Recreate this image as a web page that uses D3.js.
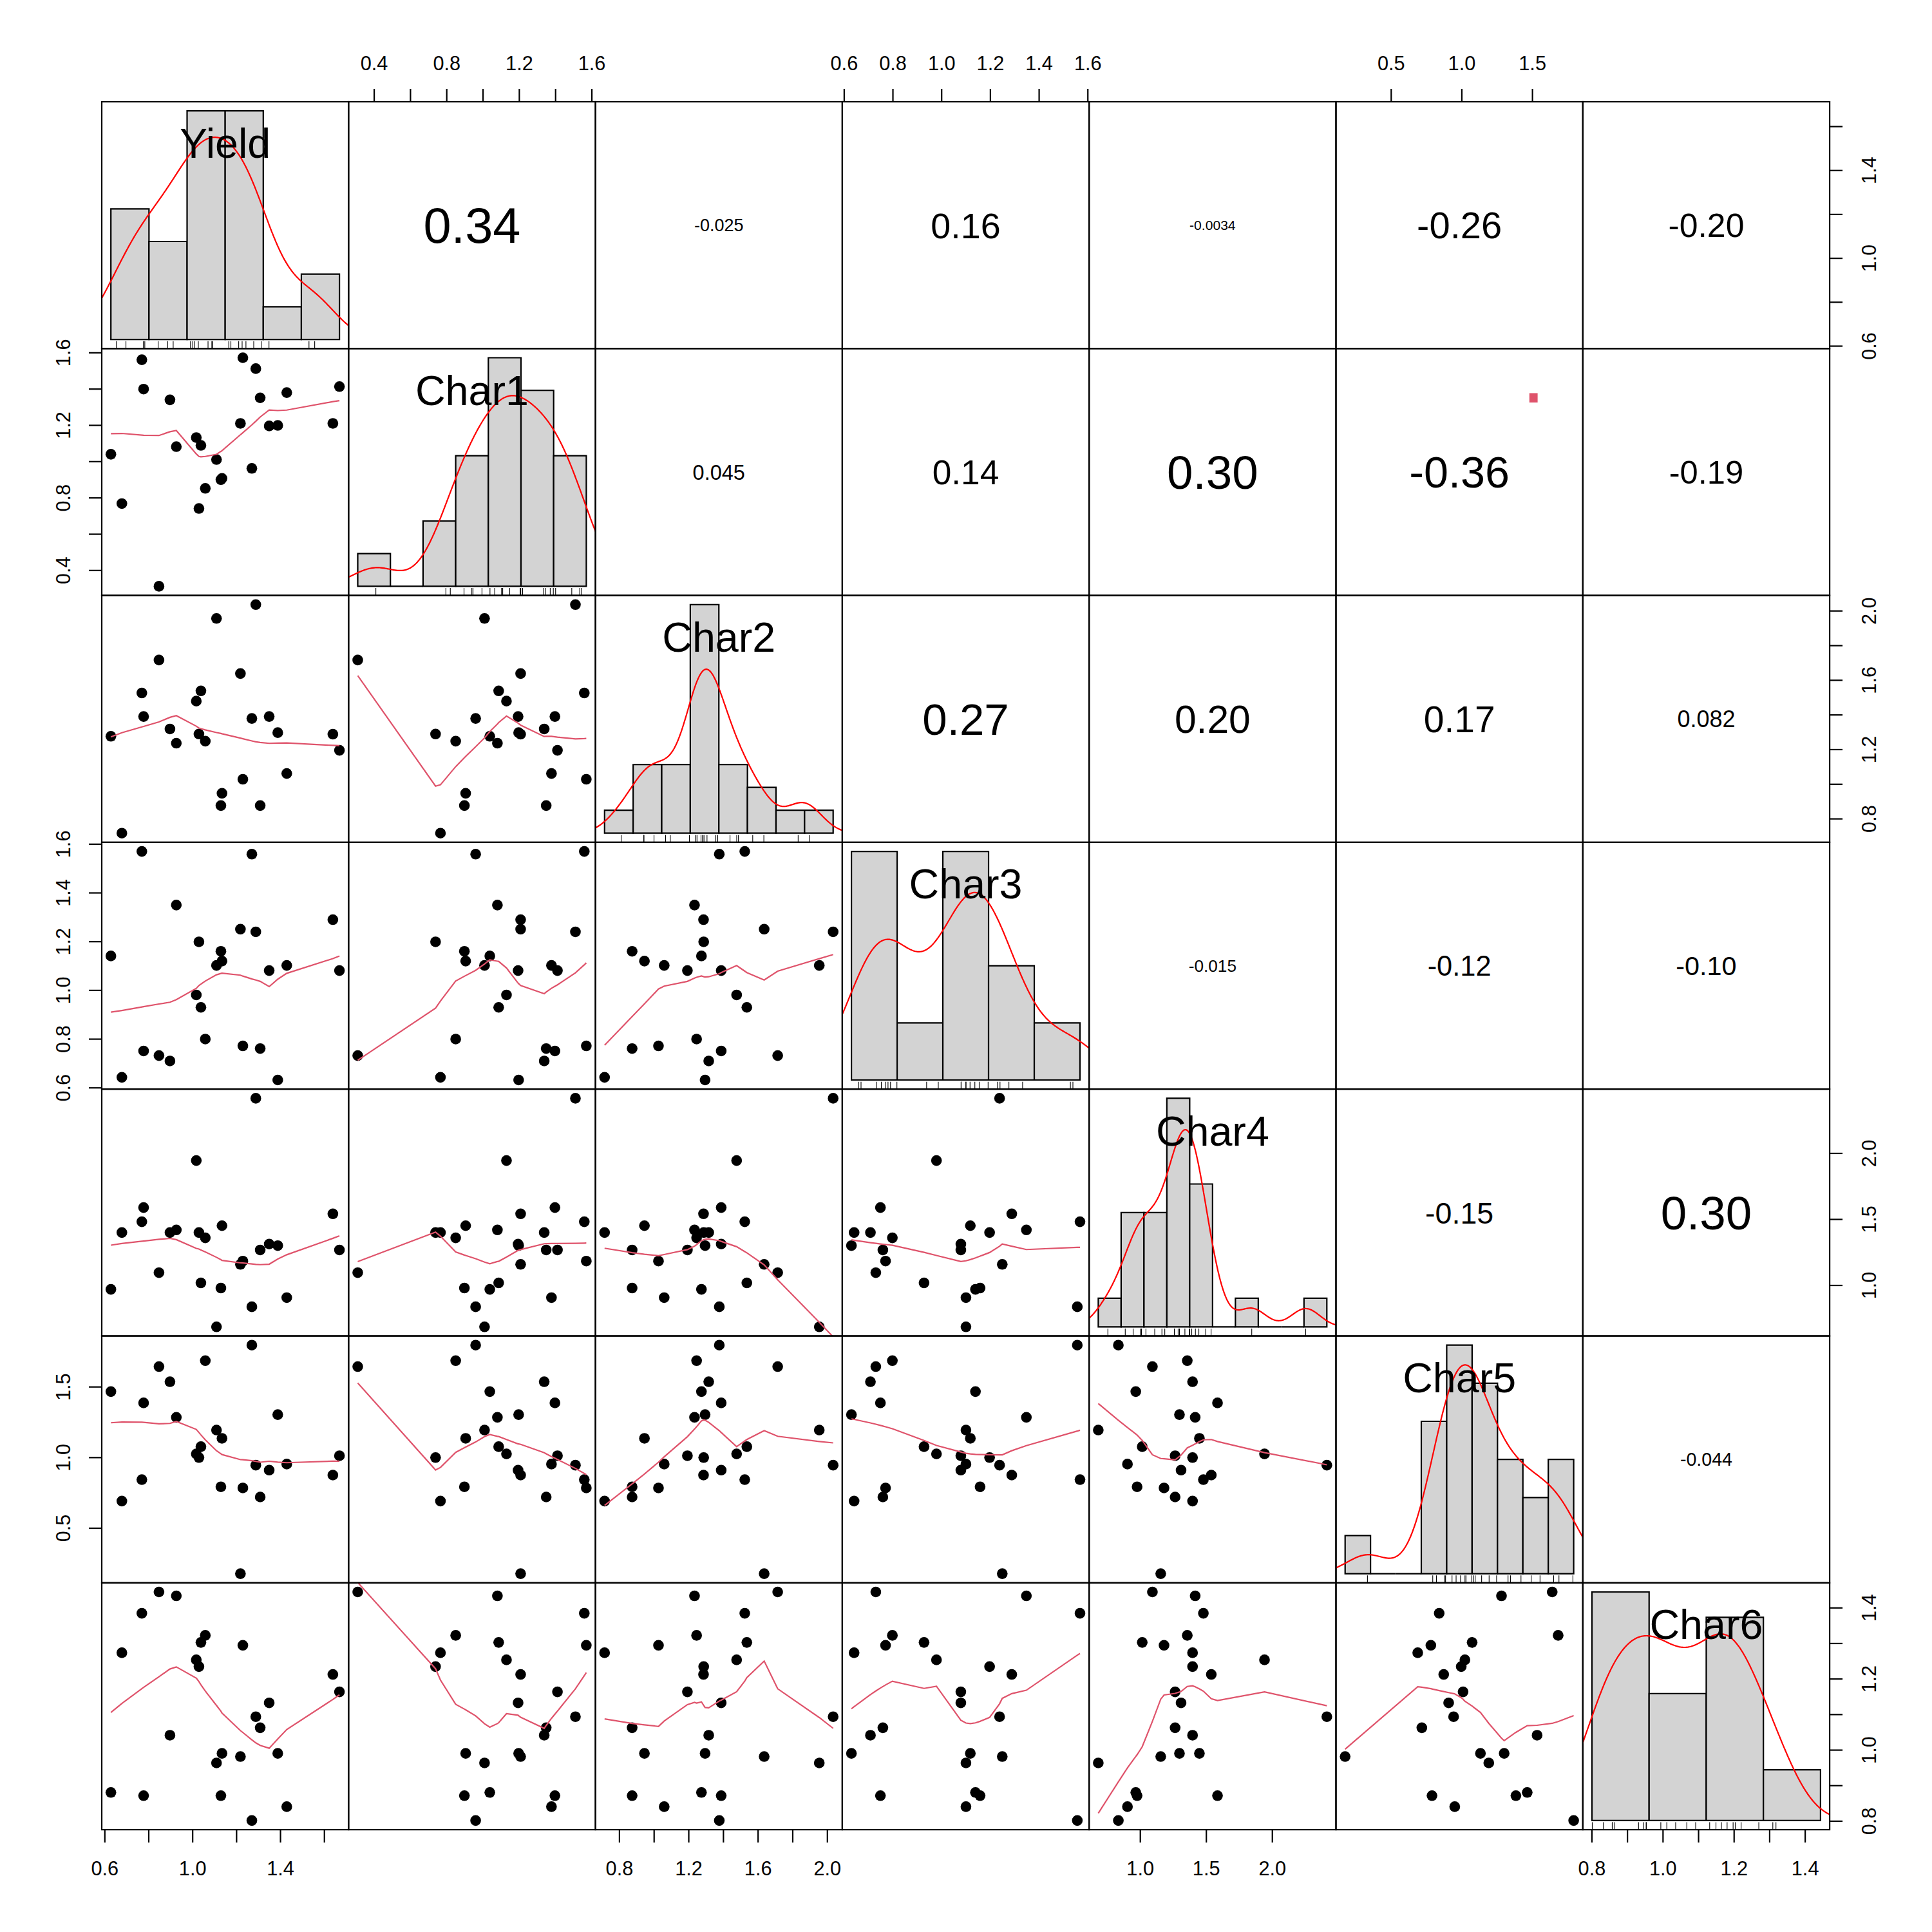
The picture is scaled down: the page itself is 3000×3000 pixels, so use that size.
<!DOCTYPE html>
<html><head><meta charset="utf-8">
<script src="https://cdn.jsdelivr.net/npm/d3@7"></script>
<style>body{margin:0;background:#fff}</style>
</head><body>
<svg id="chart" width="3000" height="3000" xmlns="http://www.w3.org/2000/svg"></svg>
<script>
// ---------- data ----------
const varNames = ["Yield","Char1","Char2","Char3","Char4","Char5","Char6"];
const yieldVals = [0.629,0.679,0.770,0.778,0.848,0.898,0.927,1.018,1.030,1.039,1.059,1.110,1.130,1.135,1.219,1.230,1.271,1.289,1.309,1.350,1.389,1.430,1.640,1.670];
const char1Vals = [1.039,0.767,1.560,1.398,0.311,1.339,1.081,1.131,0.740,1.088,0.851,1.010,0.899,0.906,1.209,1.571,0.961,1.511,1.350,1.195,1.198,1.379,1.209,1.412];
const char2Vals = [1.275,0.716,1.525,1.389,1.715,1.317,1.235,1.478,1.288,1.537,1.247,1.955,0.875,0.946,1.637,1.027,1.378,2.035,0.875,1.389,1.296,1.060,1.287,1.194];
const char3Vals = [1.140,0.642,1.569,0.750,0.731,0.709,1.349,0.980,1.198,0.929,0.799,1.101,1.159,1.119,1.250,0.771,1.558,1.239,0.760,1.080,0.631,1.101,1.289,1.080];
const char4Vals = [0.968,1.398,1.480,1.587,1.094,1.398,1.418,1.943,1.398,1.017,1.358,0.684,0.978,1.450,1.157,1.182,0.836,2.415,1.266,1.311,1.299,0.905,1.540,1.266];
const char5Vals = [1.465,0.690,0.842,1.385,1.642,1.535,1.283,1.024,0.998,1.075,1.684,1.193,0.791,1.134,0.176,0.783,1.794,0.944,0.719,0.909,1.302,0.952,0.874,1.011];
const char6Vals = [0.880,1.273,1.384,0.871,1.444,1.041,1.433,1.253,1.234,1.302,1.322,0.963,0.871,0.990,0.981,1.294,0.801,1.093,1.062,1.132,0.990,0.840,1.212,1.163];

// histogram breaks
const yieldBreaks = [0.6,0.8,1.0,1.2,1.4,1.6,1.8];
const char1Breaks = [0.2,0.4,0.6,0.8,1.0,1.2,1.4,1.6];
const char2Breaks = [0.6,0.8,1.0,1.2,1.4,1.6,1.8,2.0,2.2];
const char3Breaks = [0.6,0.8,1.0,1.2,1.4,1.6];
const char4Breaks = [0.6,0.8,1.0,1.2,1.4,1.6,1.8,2.0,2.2,2.4,2.6];
const char5Breaks = [0.0,0.2,0.4,0.6,0.8,1.0,1.2,1.4,1.6,1.8];
const char6Breaks = [0.8,1.0,1.2,1.4,1.6];

// axis ticks and labelled ticks
const yieldTicks = [0.6,0.8,1.0,1.2,1.4,1.6];   const yieldTickLabels = [0.6,1.0,1.4];
const char1Ticks = [0.4,0.6,0.8,1.0,1.2,1.4,1.6]; const char1TickLabels = [0.4,0.8,1.2,1.6];
const char2Ticks = [0.8,1.0,1.2,1.4,1.6,1.8,2.0]; const char2TickLabels = [0.8,1.2,1.6,2.0];
const char3Ticks = [0.6,0.8,1.0,1.2,1.4,1.6];     const char3TickLabels = [0.6,0.8,1.0,1.2,1.4,1.6];
const char4Ticks = [1.0,1.5,2.0];                 const char4TickLabels = [1.0,1.5,2.0];
const char5Ticks = [0.5,1.0,1.5];                 const char5TickLabels = [0.5,1.0,1.5];
const char6Ticks = [0.8,0.9,1.0,1.1,1.2,1.3,1.4]; const char6TickLabels = [0.8,1.0,1.2,1.4];

// correlations (upper triangle, row by row) and significance marks
const corLabels = ["0.34","-0.025","0.16","-0.0034","-0.26","-0.20",
                   "0.045","0.14","0.30","-0.36","-0.19",
                   "0.27","0.20","0.17","0.082",
                   "-0.015","-0.12","-0.10",
                   "-0.15","0.30",
                   "-0.044"];
const corSignif = ["","","","","","",
                   "","","",".","",
                   "","","","",
                   "","","",
                   "","",
                   ""];

// ---------- layout ----------
const vars = [yieldVals,char1Vals,char2Vals,char3Vals,char4Vals,char5Vals,char6Vals];
const breaksAll = [yieldBreaks,char1Breaks,char2Breaks,char3Breaks,char4Breaks,char5Breaks,char6Breaks];
const ticksAll = [yieldTicks,char1Ticks,char2Ticks,char3Ticks,char4Ticks,char5Ticks,char6Ticks];
const tickLabAll = [yieldTickLabels,char1TickLabels,char2TickLabels,char3TickLabels,char4TickLabels,char5TickLabels,char6TickLabels];
const NV = 7, L = 158, T = 158, S = 383.3;
const FONT = "'Liberation Sans', Arial, Helvetica, sans-serif";
const svg = d3.select("#chart");
svg.append("rect").attr("width",3000).attr("height",3000).attr("fill","#fff");
const defs = svg.append("defs");

function dom(k){ const [a,b] = d3.extent(vars[k]); const p = 0.04*(b-a); return [a-p,b+p]; }
function xSc(k,col){ return d3.scaleLinear().domain(dom(k)).range([L+col*S, L+(col+1)*S]); }
function ySc(k,row){ return d3.scaleLinear().domain(dom(k)).range([T+(row+1)*S, T+row*S]); }

function clipFor(i,j){
  const id = `clip-${i}-${j}`;
  defs.append("clipPath").attr("id",id).append("rect")
    .attr("x",L+j*S).attr("y",T+i*S).attr("width",S).attr("height",S);
  return `url(#${id})`;
}

// ---------- lowess (R clowess) ----------
function lowess(xIn, yIn, f=2/3, nsteps=3){
  const n = xIn.length;
  const idx = d3.range(n).sort((a,b)=> (xIn[a]-xIn[b]) || (a-b));
  const x=[0], y=[0];
  idx.forEach(i=>{x.push(xIn[i]); y.push(yIn[i]);});
  const delta = 0.01*(x[n]-x[1]);
  const ys = new Array(n+1).fill(0), rw = new Array(n+1).fill(1), w = new Array(n+1).fill(0), res = new Array(n+1).fill(0);
  const ns = Math.max(2, Math.min(n, Math.floor(f*n+1e-7)));
  function lowest(xs, nleft, nright, userw){
    const range = x[n]-x[1];
    const h = Math.max(xs-x[nleft], x[nright]-xs);
    const h9 = 0.999*h, h1 = 0.001*h;
    let a = 0, j = nleft;
    while (j <= n){
      w[j] = 0;
      const r = Math.abs(x[j]-xs);
      if (r <= h9){
        w[j] = (r <= h1) ? 1 : Math.pow(1-Math.pow(r/h,3),3);
        if (userw) w[j] *= rw[j];
        a += w[j];
      } else if (x[j] > xs) break;
      j++;
    }
    const nrt = j-1;
    if (a <= 0) return null;
    for (j=nleft;j<=nrt;j++) w[j] /= a;
    if (h > 0){
      a = 0;
      for (j=nleft;j<=nrt;j++) a += w[j]*x[j];
      let b = xs-a, c = 0;
      for (j=nleft;j<=nrt;j++) c += w[j]*(x[j]-a)*(x[j]-a);
      if (Math.sqrt(c) > 0.001*range){
        b /= c;
        for (j=nleft;j<=nrt;j++) w[j] *= (b*(x[j]-a)+1);
      }
    }
    let s = 0;
    for (j=nleft;j<=nrt;j++) s += w[j]*y[j];
    return s;
  }
  let iter = 1;
  while (iter <= nsteps+1){
    let nleft=1, nright=ns, last=0, i=1;
    for(;;){
      if (nright < n){
        const d1 = x[i]-x[nleft], d2 = x[nright+1]-x[i];
        if (d1 > d2){ nleft++; nright++; continue; }
      }
      const v = lowest(x[i], nleft, nright, iter>1);
      ys[i] = (v===null) ? y[i] : v;
      if (last < i-1){
        const denom = x[i]-x[last];
        for (let j=last+1;j<i;j++){ const al=(x[j]-x[last])/denom; ys[j]=al*ys[i]+(1-al)*ys[last]; }
      }
      last = i;
      const cut = x[last]+delta;
      for (i=last+1;i<=n;i++){
        if (x[i] > cut) break;
        if (x[i] === x[last]){ ys[i]=ys[last]; last=i; }
      }
      i = Math.max(last+1, i-1);
      if (last >= n) break;
    }
    for (let k=1;k<=n;k++) res[k] = y[k]-ys[k];
    let sc = 0; for (let k=1;k<=n;k++) sc += Math.abs(res[k]); sc /= n;
    if (iter > nsteps) break;
    const ar = []; for (let k=1;k<=n;k++) ar.push(Math.abs(res[k]));
    ar.sort((a,b)=>a-b);
    const m1 = Math.floor(n/2);
    const cmad = (n%2===0) ? 3*(ar[m1]+ar[n-m1-1]) : 6*ar[m1];
    if (cmad < 1e-7*sc) break;
    const c9 = 0.999*cmad, c1 = 0.001*cmad;
    for (let k=1;k<=n;k++){ const r=Math.abs(res[k]); rw[k] = r<=c1 ? 1 : (r<=c9 ? Math.pow(1-Math.pow(r/cmad,2),2) : 0); }
    iter++;
  }
  return d3.range(1,n+1).map(k=>[x[k],ys[k]]);
}

// ---------- gaussian density (R default bw.nrd0, n=512, cut=3) ----------
function density(vals){
  const n = vals.length;
  const s = vals.slice().sort(d3.ascending);
  const iqr = d3.quantileSorted(s,0.75)-d3.quantileSorted(s,0.25);
  const lo = Math.min(d3.deviation(vals), iqr/1.34);
  const bw = 0.9*lo*Math.pow(n,-0.2);
  const from = s[0]-3*bw, to = s[n-1]+3*bw;
  return d3.range(512).map(k=>{
    const xv = from+(to-from)*k/511;
    let sum = 0;
    for (const v of vals){ const z=(xv-v)/bw; sum += Math.exp(-0.5*z*z); }
    return [xv, sum/(n*bw*Math.sqrt(2*Math.PI))];
  });
}

// ---------- panels ----------
let ci = 0;
for (let i=0;i<NV;i++){
  for (let j=0;j<NV;j++){
    const px = L+j*S, py = T+i*S;
    const g = svg.append("g");
    if (i > j){
      // lower: scatter + lowess
      const xs = xSc(j,j), ys = ySc(i,i);
      const cg = g.append("g").attr("clip-path", clipFor(i,j));
      cg.selectAll("circle").data(vars[j].map((v,k)=>[v,vars[i][k]])).join("circle")
        .attr("cx",d=>xs(d[0])).attr("cy",d=>ys(d[1])).attr("r",8.3).attr("fill","#000");
      const sm = lowess(vars[j], vars[i]);
      cg.append("path").attr("d", d3.line().x(d=>xs(d[0])).y(d=>ys(d[1]))(sm))
        .attr("fill","none").attr("stroke","#DF536B").attr("stroke-width",2.2);
    } else if (i < j){
      // upper: correlation text
      const lab = corLabels[ci], sig = corSignif[ci]; ci++;
      const t = g.append("text").attr("font-family",FONT).attr("font-size",100).text(lab);
      const w100 = t.node().getComputedTextLength();
      const r = Math.abs(parseFloat(lab));
      const fs = 100*(S*0.8*(r+0.3)/1.3)/w100;
      t.attr("font-size",fs).attr("text-anchor","middle")
        .attr("x",px+S/2).attr("y",py+S/2+0.358*fs).attr("fill","#000");
      if (sig){
        const fsSig = 100*(S*0.8)/w100;
        g.append("text").attr("font-family",FONT).attr("font-size",fsSig).attr("text-anchor","middle")
          .attr("x",px+0.8*S).attr("y",py+0.2*S+0.052*fsSig).attr("fill","#DF536B").text(sig);
      }
    } else {
      // diagonal: histogram + density + rug + label
      const vals = vars[i], br = breaksAll[i], n = vals.length;
      const counts = br.slice(0,-1).map((a,k)=>{
        const b = br[k+1];
        return vals.filter(v => (v > a+1e-9 || (k===0 && v >= a-1e-9)) && v <= b+1e-9).length;
      });
      const dens = counts.map((c,k)=> c/(n*(br[k+1]-br[k])));
      const maxD = d3.max(dens);
      const b0 = br[0], b1 = br[br.length-1];
      const hx = d3.scaleLinear().domain([b0-0.04*(b1-b0), b1+0.04*(b1-b0)]).range([px, px+S]);
      const hy = d3.scaleLinear().domain([-0.04*maxD, 1.04*maxD]).range([py+S, py]);
      const cg = g.append("g").attr("clip-path", clipFor(i,j));
      cg.selectAll("path.bar").data(dens.map((d,k)=>[br[k],br[k+1],d])).join("path").attr("class","bar")
        .attr("d", d=>`M${hx(d[0])},${hy(0)}H${hx(d[1])}V${hy(d[2])}H${hx(d[0])}Z`)
        .attr("fill","#D3D3D3").attr("stroke","#000").attr("stroke-width",2.2);
      cg.append("path").attr("d", d3.line().x(d=>hx(d[0])).y(d=>hy(d[1]))(density(vals)))
        .attr("fill","none").attr("stroke","#FF0000").attr("stroke-width",2.2);
      cg.selectAll("line.rug").data(vals).join("line").attr("class","rug")
        .attr("x1",d=>hx(d)).attr("x2",d=>hx(d)).attr("y1",py+S).attr("y2",py+S-0.03*S)
        .attr("stroke","#000").attr("stroke-width",1.1);
      const lfs = 64.6;
      g.append("text").attr("font-family",FONT).attr("font-size",lfs).attr("text-anchor","middle")
        .attr("x",px+S/2).attr("y",py+(1-0.8333)*S+0.3645*lfs).attr("fill","#000").text(varNames[i]);
    }
    g.append("rect").attr("x",px).attr("y",py).attr("width",S).attr("height",S)
      .attr("fill","none").attr("stroke","#000").attr("stroke-width",2.2);
  }
}

// ---------- axes ----------
const fmt = d3.format(".1f");
function addAxis(orient, k, index){
  const vertical = (orient==="left"||orient==="right");
  const sc = vertical ? ySc(k,index) : xSc(k,index);
  const gen = {bottom:d3.axisBottom, top:d3.axisTop, left:d3.axisLeft, right:d3.axisRight}[orient](sc)
    .tickValues(ticksAll[k]).tickSize(20).tickPadding(29)
    .tickFormat(v => tickLabAll[k].some(l=>Math.abs(l-v)<1e-9) ? fmt(v) : "");
  const tr = {bottom:`translate(0,${T+NV*S})`, top:`translate(0,${T})`, left:`translate(${L},0)`, right:`translate(${L+NV*S},0)`}[orient];
  const ag = svg.append("g").attr("transform",tr).call(gen)
    .attr("font-size",30.7).attr("font-family",FONT);
  ag.select(".domain").remove();
  ag.selectAll(".tick line").attr("stroke","#000").attr("stroke-width",2.2);
  ag.selectAll(".tick text").attr("fill","#000");
  if (vertical){
    const off = orient==="right" ? 60.5 : -60.5;
    ag.selectAll(".tick text").attr("x",null).attr("dy","0.358em").attr("text-anchor","middle")
      .attr("transform",`translate(${off},0) rotate(-90)`);
  }
}
for (let k=0;k<NV;k++){
  if (k%2===0){ addAxis("bottom",k,k); addAxis("right",k,k); }
  else { addAxis("top",k,k); addAxis("left",k,k); }
}
</script>
</body></html>
